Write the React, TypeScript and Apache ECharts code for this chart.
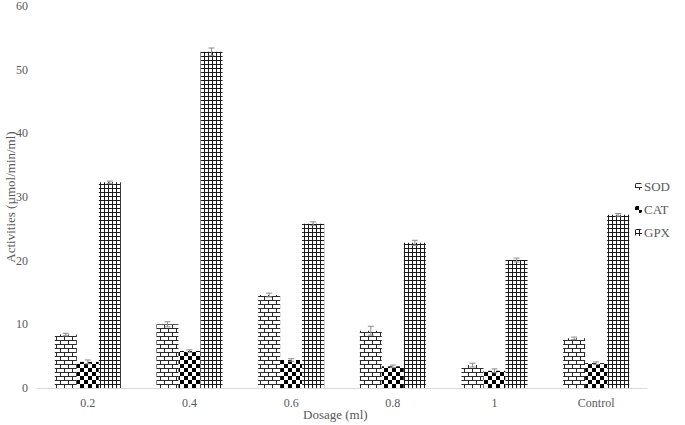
import React, { useEffect, useRef } from "react";
import * as echarts from "echarts";

const categories = ["0.2", "0.4", "0.6", "0.8", "1", "Control"];
const seriesNames = ["SOD", "CAT", "GPX"];
const sodValues = [8.4, 10.0, 14.6, 9.0, 3.6, 7.8];
const catValues = [4.1, 5.8, 4.4, 3.4, 2.7, 3.9];
const gpxValues = [32.3, 52.8, 25.8, 22.8, 20.1, 27.2];
const sodErrors = [0.2, 0.4, 0.3, 0.7, 0.3, 0.2];
const catErrors = [0.3, 0.2, 0.2, 0.2, 0.3, 0.2];
const gpxErrors = [0.2, 0.6, 0.3, 0.4, 0.3, 0.2];
const yTicks = { min: 0, max: 60, interval: 10 };

const FONT = "'Liberation Serif', 'Times New Roman', serif";
const BAR_GAP_CAT = 0.35;

function makeTile(w: number, h: number, draw: (ctx: CanvasRenderingContext2D) => void) {
  const c = document.createElement("canvas");
  c.width = w;
  c.height = h;
  const ctx = c.getContext("2d")!;
  ctx.fillStyle = "#ffffff";
  ctx.fillRect(0, 0, w, h);
  draw(ctx);
  return { image: c, repeat: "repeat", imageWidth: w, imageHeight: h } as any;
}

export default function App() {
  const ref = useRef<HTMLDivElement>(null);
  useEffect(() => {
    if (!ref.current) return;
    const chart = echarts.init(ref.current, null, { renderer: "svg" });

    const brick = makeTile(8, 8, (ctx) => {
      ctx.fillStyle = "#2a2a2a";
      ctx.fillRect(0, 0, 8, 1);
      ctx.fillRect(0, 4, 8, 1);
      ctx.fillRect(0, 1, 1, 3);
      ctx.fillRect(4, 5, 1, 3);
    });
    const checker = makeTile(8, 8, (ctx) => {
      ctx.fillStyle = "#000000";
      ctx.fillRect(0, 0, 4, 4);
      ctx.fillRect(4, 4, 4, 4);
    });
    const grid = makeTile(4, 4, (ctx) => {
      ctx.fillStyle = "#9a9a9a";
      ctx.fillRect(0, 0, 4, 4);
      ctx.fillStyle = "#ffffff";
      ctx.fillRect(1, 1, 3, 3);
      ctx.fillStyle = "#1a1a1a";
      ctx.fillRect(0, 0, 4, 1);
      ctx.fillRect(0, 0, 1, 4);
    });
    const patterns = [brick, checker, grid];
    const values = [sodValues, catValues, gpxValues];
    const errors = [sodErrors, catErrors, gpxErrors];

    const errData: number[][] = [];
    values.forEach((arr, s) => {
      arr.forEach((v, i) => errData.push([i, v, errors[s][i], s]));
    });

    chart.setOption({
      animation: false,
      backgroundColor: "#ffffff",
      textStyle: { fontFamily: FONT },
      grid: { left: 37, right: 38, top: 6, bottom: 37, containLabel: false, outerBoundsMode: "none" },
      legend: {
        orient: "vertical",
        left: 630,
        top: 175,
        itemWidth: 7,
        itemHeight: 7,
        itemGap: 10,
        data: seriesNames,
        textStyle: { fontFamily: FONT, fontSize: 13, color: "#595959", padding: [0, 0, 0, -3] },
      },
      xAxis: {
        type: "category",
        data: categories,
        axisTick: { show: false },
        axisLine: { lineStyle: { color: "#d9d9d9" } },
        axisLabel: { color: "#595959", fontSize: 12, fontFamily: FONT, margin: 9 },
      },
      yAxis: {
        type: "value",
        min: yTicks.min,
        max: yTicks.max,
        interval: yTicks.interval,
        axisLine: { show: false },
        axisTick: { show: false },
        splitLine: { show: false },
        axisLabel: { color: "#595959", fontSize: 12, fontFamily: FONT, margin: 9 },
      },
      graphic: [
        {
          type: "text",
          x: 10,
          y: 197,
          rotation: Math.PI / 2,
          style: {
            text: "Activities (µmol/min/ml)",
            fill: "#595959",
            fontSize: 13,
            fontFamily: FONT,
            align: "center",
            verticalAlign: "middle",
          },
        },
        {
          type: "text",
          left: 303,
          top: 408,
          style: { text: "Dosage (ml)", fill: "#595959", fontSize: 13, fontFamily: FONT },
        },
      ],
      series: [
        ...seriesNames.map((name, s) => ({
          name,
          type: "bar",
          data: values[s],
          barGap: "0%",
          barCategoryGap: BAR_GAP_CAT * 100 + "%",
          itemStyle: { color: patterns[s] },
        })),
        {
          type: "custom",
          name: "err",
          z: 5,
          data: errData,
          encode: { x: 0, y: 1 },
          renderItem: (params: any, api: any) => {
            const i = api.value(0);
            const v = api.value(1);
            const e = api.value(2);
            const s = api.value(3);
            const band = api.size([1, 0])[0];
            const bw = (band * (1 - BAR_GAP_CAT)) / 3;
            const top = api.coord([i, v + e]);
            const bot = api.coord([i, v - e]);
            const x = top[0] + (s - 1) * bw;
            const cap = 3;
            const st = { stroke: "#8c8c8c", lineWidth: 1 };
            return {
              type: "group",
              children: [
                { type: "line", shape: { x1: x, y1: top[1], x2: x, y2: bot[1] }, style: st },
                { type: "line", shape: { x1: x - cap, y1: top[1], x2: x + cap, y2: top[1] }, style: st },
                { type: "line", shape: { x1: x - cap, y1: bot[1], x2: x + cap, y2: bot[1] }, style: st },
              ],
            };
          },
        },
      ],
    } as any);
    return () => chart.dispose();
  }, []);
  return <div ref={ref} style={{ width: 685, height: 425, position: "absolute", left: 0, top: 0 }} />;
}
